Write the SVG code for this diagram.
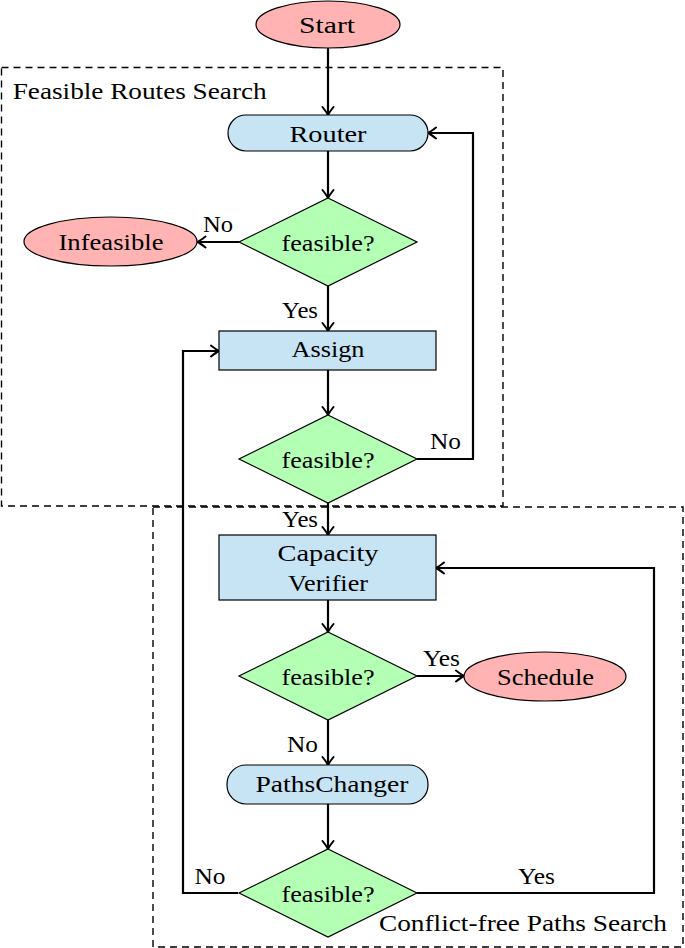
<svg xmlns="http://www.w3.org/2000/svg" width="685" height="948" viewBox="0 0 685 948">
<style>
text{font-family:'Liberation Serif','Times New Roman',serif;font-size:24px;fill:#000}
.c{text-anchor:middle}
.term{fill:#FFB3B3;stroke:#000;stroke-width:1.2}
.dec{fill:#B3FFB3;stroke:#000;stroke-width:1.2}
.proc{fill:#C6E4F4;stroke:#000;stroke-width:1.2}
.box{fill:none;stroke:#000;stroke-width:1.4;stroke-dasharray:7,5}
.edge{fill:none;stroke:#000;stroke-width:2.2;marker-end:url(#arr)}
</style>
<defs>
<marker id="arr" markerUnits="userSpaceOnUse" viewBox="-10 -7 12 14" refX="0" refY="0" markerWidth="12" markerHeight="14" orient="auto">
<path d="M-8,-5.5 Q-2.5,-1.2 0,0 Q-2.5,1.2 -8,5.5" fill="none" stroke="#000" stroke-width="2" stroke-linecap="round"/>
</marker>
</defs>
<g id="regions">
<rect class="box" x="1.5" y="67.5" width="501.5" height="438.5"/>
<text x="12.7" y="99" textLength="254" lengthAdjust="spacingAndGlyphs">Feasible Routes Search</text>
<rect class="box" x="153" y="507" width="530" height="440"/>
<text x="379" y="931" textLength="288" lengthAdjust="spacingAndGlyphs">Conflict-free Paths Search</text>
</g>
<g id="connectors">
<path class="edge" d="M328,48 V115"/>
<path class="edge" d="M328,151 V198"/>
<path class="edge" d="M239,242 H197.5"/>
<path class="edge" d="M328,286 V331"/>
<path class="edge" d="M328,370 V415"/>
<path class="edge" d="M417,459 H473 V133 H428"/>
<path class="edge" d="M328,503 V535"/>
<path class="edge" d="M328,600 V632"/>
<path class="edge" d="M417,676 H464"/>
<path class="edge" d="M328,720 V765"/>
<path class="edge" d="M328,804 V849"/>
<path class="edge" d="M238,893 H183 V351 H219"/>
<path class="edge" d="M417,893 H654 V568 H436"/>
<text x="218" y="232" class="c" textLength="30" lengthAdjust="spacingAndGlyphs">No</text>
<text x="300" y="318" class="c" textLength="36" lengthAdjust="spacingAndGlyphs">Yes</text>
<text x="445.5" y="449" class="c" textLength="31" lengthAdjust="spacingAndGlyphs">No</text>
<text x="300" y="527" class="c" textLength="36" lengthAdjust="spacingAndGlyphs">Yes</text>
<text x="441.5" y="666" class="c" textLength="37" lengthAdjust="spacingAndGlyphs">Yes</text>
<text x="302.5" y="752" class="c" textLength="31" lengthAdjust="spacingAndGlyphs">No</text>
<text x="210" y="884" class="c" textLength="31" lengthAdjust="spacingAndGlyphs">No</text>
<text x="536.5" y="884" class="c" textLength="37" lengthAdjust="spacingAndGlyphs">Yes</text>
</g>
<g id="start">
<ellipse class="term" cx="328" cy="24.5" rx="72" ry="23.5"/>
<text x="327" y="33" class="c" textLength="56" lengthAdjust="spacingAndGlyphs">Start</text>
</g>
<g id="router">
<rect class="proc" x="228" y="115" width="200" height="36" rx="18"/>
<text x="328" y="142" class="c" textLength="77" lengthAdjust="spacingAndGlyphs">Router</text>
</g>
<g id="decision1">
<polygon class="dec" points="328,198 417,242 328,286 239,242"/>
<text x="328" y="251" class="c" textLength="93" lengthAdjust="spacingAndGlyphs">feasible?</text>
</g>
<g id="infeasible">
<ellipse class="term" cx="110.5" cy="241.5" rx="86.5" ry="24.5"/>
<text x="111" y="250" class="c" textLength="105" lengthAdjust="spacingAndGlyphs">Infeasible</text>
</g>
<g id="assign">
<rect class="proc" x="219" y="331" width="217" height="39"/>
<text x="328" y="357" class="c" textLength="73" lengthAdjust="spacingAndGlyphs">Assign</text>
</g>
<g id="decision2">
<polygon class="dec" points="328,415 417,459 328,503 239,459"/>
<text x="328" y="468" class="c" textLength="93" lengthAdjust="spacingAndGlyphs">feasible?</text>
</g>
<g id="capacity">
<rect class="proc" x="219" y="535" width="217" height="65"/>
<text x="328" y="561" class="c" textLength="101" lengthAdjust="spacingAndGlyphs">Capacity</text>
<text x="328" y="591" class="c" textLength="80" lengthAdjust="spacingAndGlyphs">Verifier</text>
</g>
<g id="decision3">
<polygon class="dec" points="328,632 417,676 328,720 239,676"/>
<text x="328" y="685" class="c" textLength="93" lengthAdjust="spacingAndGlyphs">feasible?</text>
</g>
<g id="schedule">
<ellipse class="term" cx="545" cy="676.5" rx="81" ry="24.5"/>
<text x="545.5" y="685" class="c" textLength="97" lengthAdjust="spacingAndGlyphs">Schedule</text>
</g>
<g id="pathschanger">
<rect class="proc" x="227" y="765" width="201" height="39" rx="19"/>
<text x="332" y="792" class="c" textLength="153" lengthAdjust="spacingAndGlyphs">PathsChanger</text>
</g>
<g id="decision4">
<polygon class="dec" points="328,849 417,893 328,937 239,893"/>
<text x="328" y="902" class="c" textLength="93" lengthAdjust="spacingAndGlyphs">feasible?</text>
</g>
</svg>
